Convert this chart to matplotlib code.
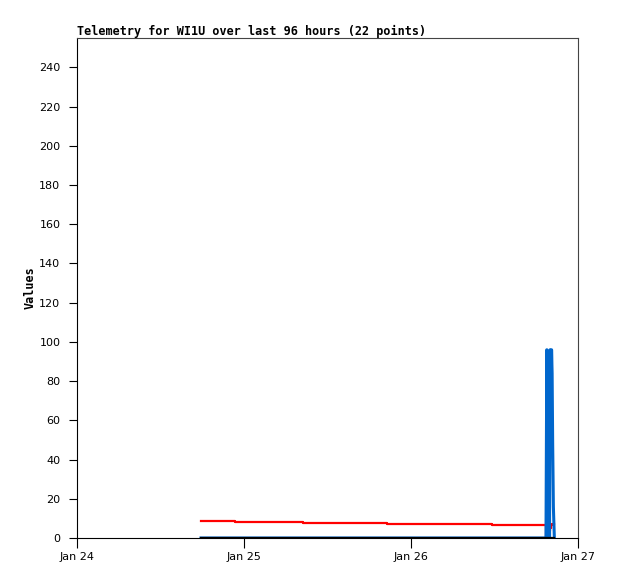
import matplotlib
matplotlib.use('Agg')
import matplotlib.pyplot as plt
import matplotlib.dates as mdates
from datetime import datetime, timedelta

# hours after Jan 24 00:00 for each of the 22 points
hours = [17.82, 22.71, 32.48, 44.55, 59.64, 67.40,
         67.46, 67.52, 67.58, 67.64, 67.70, 67.77, 67.84, 67.91, 67.98, 68.05,
         68.12, 68.20, 68.28, 68.36, 68.46, 68.60]

# telemetry channels
red_vals = [8.8, 8.3, 7.8, 7.2, 6.7, 6.7,
            0.0, 0.0, 0.5, 1.5, 2.5, 3.0, 3.5, 4.0, 5.0, 6.0,
            6.5, 7.0, 7.0, 7.0, 7.0, 7.0]
blue_vals = [0, 0, 0, 0, 0, 0,
             48, 96, 40, 0, 60, 84, 36, 0, 96, 80,
             48, 96, 84, 48, 16, 0]
black_vals = [0] * 22

start = datetime(2023, 1, 24)
times = [start + timedelta(hours=h) for h in hours]

fig = plt.figure(figsize=(6.18, 5.79), dpi=100)
ax = fig.add_axes([77/618, 41/579, 501/618, 500/579])

ax.plot(times, red_vals, color='#ff0000', linewidth=1.6, drawstyle='steps-post')
ax.plot(times, blue_vals, color='#0066cc', linewidth=2.2)
ax.plot(times, black_vals, color='black', linewidth=1.6)

ax.set_xlim(start, start + timedelta(days=3))
ax.set_ylim(0, 255)
ax.set_yticks(range(0, 241, 20))
ax.xaxis.set_major_locator(mdates.DayLocator())
ax.xaxis.set_major_formatter(mdates.DateFormatter('%b %d'))

ax.tick_params(axis='both', direction='out', labelsize=8, colors='black')
ax.tick_params(axis='y', length=6, pad=6)
ax.tick_params(axis='x', length=7, pad=3)

for s in ['top', 'right']:
    ax.spines[s].set_color('#444444')
ax.spines['left'].set_color('black')
ax.spines['bottom'].set_color('black')

ax.set_title('Telemetry for WI1U over last 96 hours (22 points)', loc='left',
             fontsize=8.45, fontweight='bold', family='DejaVu Sans Mono', pad=2)
ax.set_ylabel('Values', fontsize=8.5, fontweight='bold', family='DejaVu Sans Mono', labelpad=2)

plt.savefig('out.png', dpi=100)
